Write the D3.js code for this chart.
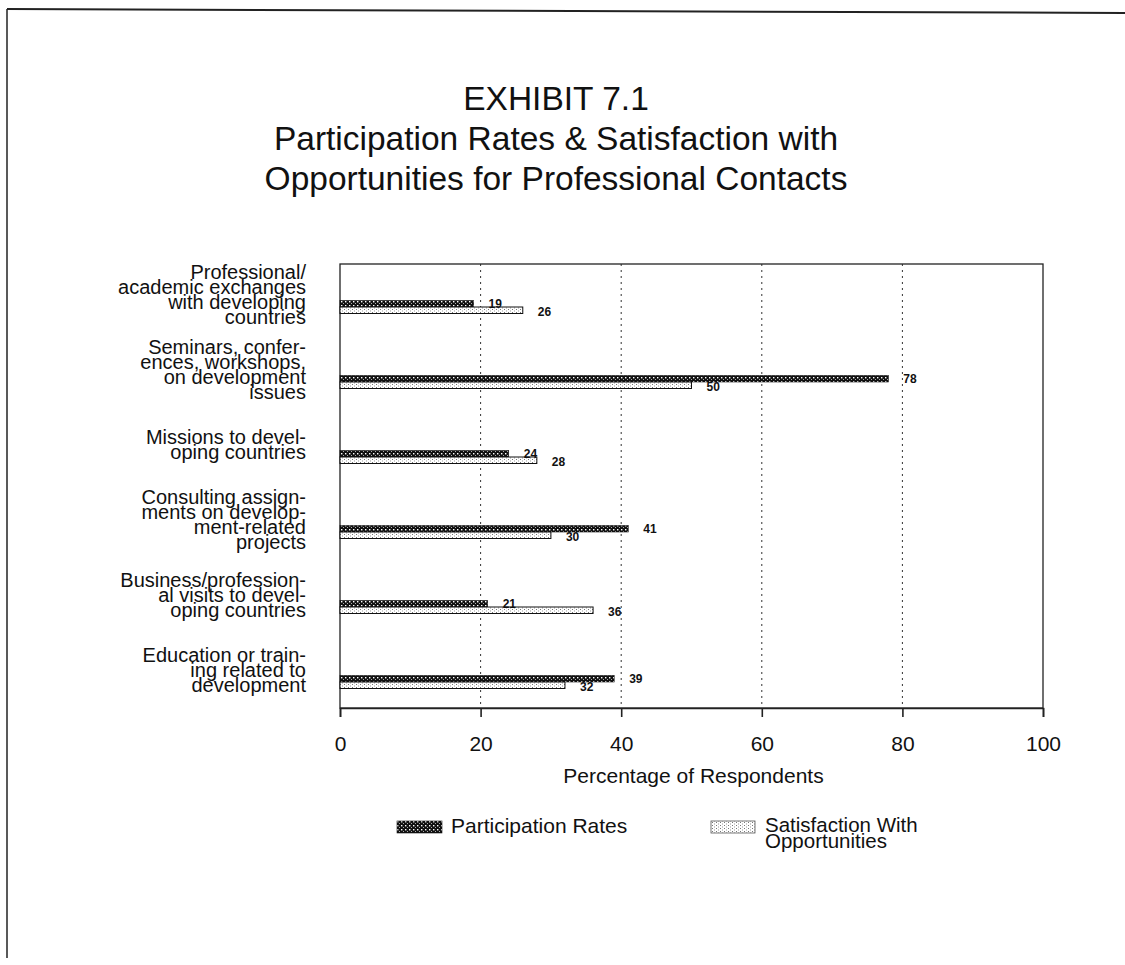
<!DOCTYPE html>
<html><head><meta charset="utf-8">
<script src="https://cdn.jsdelivr.net/npm/d3@7/dist/d3.min.js"></script>
<style>body{margin:0;background:#fff;} svg{display:block;font-family:"Liberation Sans",Arial,Helvetica,sans-serif;}</style>
</head><body>
<svg id="c" width="1125" height="965"></svg>
<script>
const titleLines = ["EXHIBIT 7.1", "Participation Rates & Satisfaction with", "Opportunities for Professional Contacts"];
const categories = [
  "Professional/|academic exchanges|with developing|countries",
  "Seminars, confer-|ences, workshops,|on development|issues",
  "Missions to devel-|oping countries",
  "Consulting assign-|ments on develop-|ment-related|projects",
  "Business/profession-|al visits to devel-|oping countries",
  "Education or train-|ing related to|development"
];
const participation = [19, 78, 24, 41, 21, 39];
const satisfaction = [26, 50, 28, 30, 36, 32];
const xTicks = [0, 20, 40, 60, 80, 100];
const gridTicks = [20, 40, 60, 80];
const seriesNames = ["Participation Rates", "Satisfaction With|Opportunities"];
const xLabel = "Percentage of Respondents";

const svg = d3.select("#c");
const defs = svg.append("defs");
const p1 = defs.append("pattern").attr("id","pDark").attr("patternUnits","userSpaceOnUse").attr("width",4).attr("height",4);
p1.append("rect").attr("width",4).attr("height",4).attr("fill","#111");
p1.append("rect").attr("x",1).attr("y",1).attr("width",1.4).attr("height",1.4).attr("fill","#fff");
p1.append("rect").attr("x",3).attr("y",3).attr("width",1).attr("height",1).attr("fill","#aaa");
const p2 = defs.append("pattern").attr("id","pLight").attr("patternUnits","userSpaceOnUse").attr("width",4).attr("height",3);
p2.append("rect").attr("width",4).attr("height",3).attr("fill","#fff");
p2.append("rect").attr("x",0).attr("y",0).attr("width",1).attr("height",1).attr("fill","#777");
p2.append("rect").attr("x",2).attr("y",1.5).attr("width",1).attr("height",1).attr("fill","#999");

// page border
svg.append("line").attr("x1",7).attr("x2",1125).attr("y1",9).attr("y2",13).attr("stroke","#222").attr("stroke-width",2);
svg.append("line").attr("x1",7).attr("x2",7).attr("y1",9).attr("y2",958).attr("stroke","#222").attr("stroke-width",1.5);

// title
svg.append("g").selectAll("text").data(titleLines).join("text")
  .attr("x",556).attr("y",(d,i)=>110+i*40).attr("text-anchor","middle")
  .attr("font-size",33.5).attr("fill","#111").text(d=>d);

const L=340,R=1043,T=264,B=708;
const x = d3.scaleLinear().domain([0,100]).range([L,R]);
const y = d3.scaleBand().domain(categories).range([269.5,719.5]);
const bh = 6.5;

svg.append("g").selectAll("line").data(gridTicks).join("line")
  .attr("x1",d=>x(d)).attr("x2",d=>x(d)).attr("y1",T).attr("y2",B)
  .attr("stroke","#333").attr("stroke-width",1).attr("stroke-dasharray","2,4");

svg.append("rect").attr("x",L).attr("y",T).attr("width",R-L).attr("height",B-T)
  .attr("fill","none").attr("stroke","#222").attr("stroke-width",1.3);

const xa = svg.append("g").attr("transform",`translate(0,${B})`)
  .call(d3.axisBottom(x).tickValues(xTicks).tickSize(9).tickPadding(0).tickFormat(d3.format("d")));
xa.select(".domain").attr("stroke","#222").attr("stroke-width",1.6);
xa.selectAll(".tick line").attr("stroke","#222").attr("stroke-width",1.6);
xa.selectAll("text").attr("font-size",21).attr("fill","#111").attr("dy",null).attr("y",43)
  .attr("font-family","Liberation Sans, Arial, sans-serif");
svg.append("text").attr("x",(L+R)/2+2).attr("y",783).attr("text-anchor","middle").attr("font-size",21).attr("fill","#111").text(xLabel);

const rows = categories.map((c,i)=>({c, p:participation[i], s:satisfaction[i]}));
const g = svg.append("g");
const cy = d=>y(d.c)+y.bandwidth()/2;
g.selectAll(".bp").data(rows).join("rect")
  .attr("x",x(0)).attr("y",d=>cy(d)-bh).attr("width",d=>x(d.p)-x(0)).attr("height",bh)
  .attr("fill","url(#pDark)").attr("stroke","#111").attr("stroke-width",0.6);
g.selectAll(".bs").data(rows).join("rect")
  .attr("x",x(0)).attr("y",d=>cy(d)).attr("width",d=>x(d.s)-x(0)).attr("height",bh)
  .attr("fill","url(#pLight)").attr("stroke","#111").attr("stroke-width",1);
g.selectAll(".lp").data(rows).join("text")
  .attr("x",d=>x(d.p)+15).attr("y",d=>cy(d)+1).attr("font-size",12).attr("font-weight","bold").attr("fill","#111")
  .text(d=>d.p);
g.selectAll(".ls").data(rows).join("text")
  .attr("x",d=>x(d.s)+15).attr("y",d=>cy(d)+9).attr("font-size",12).attr("font-weight","bold").attr("fill","#111")
  .text(d=>d.s);

const lh = 15;
rows.forEach(d=>{
  const lines = d.c.split("|");
  const t = svg.append("text").attr("text-anchor","end").attr("font-size",20).attr("fill","#111");
  const y0 = cy(d) - 13 - (lines.length-1)*lh/2 + 7.5;
  lines.forEach((ln,j)=>t.append("tspan").attr("x",306).attr("y",y0+j*lh).text(ln));
});

const leg = svg.append("g");
leg.append("rect").attr("x",397).attr("y",821).attr("width",45).attr("height",12).attr("fill","url(#pDark)").attr("stroke","#111").attr("stroke-width",0.6);
leg.append("text").attr("x",451).attr("y",833).attr("font-size",21).attr("fill","#111").text(seriesNames[0]);
leg.append("rect").attr("x",711).attr("y",821).attr("width",44).attr("height",12).attr("fill","url(#pLight)").attr("stroke","#555").attr("stroke-width",0.8);
const lt = leg.append("text").attr("font-size",20.5).attr("fill","#111");
seriesNames[1].split("|").forEach((s,j)=>lt.append("tspan").attr("x",765).attr("y",832+j*15.5).text(s));
</script>
</body></html>
